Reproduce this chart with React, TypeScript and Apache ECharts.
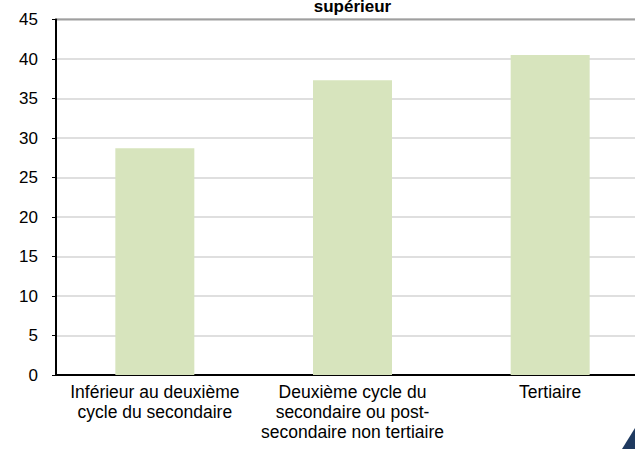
import React, { useEffect, useRef } from "react";
import * as echarts from "echarts";

const categories = [
  "Inférieur au deuxième\ncycle du secondaire",
  "Deuxième cycle du\nsecondaire ou post-\nsecondaire non tertiaire",
  "Tertiaire",
];
const values = [28.7, 37.3, 40.5];
const titleText = "supérieur";
const FONT = "'Liberation Sans', Arial, sans-serif";

export default function App() {
  const ref = useRef<HTMLDivElement>(null);
  useEffect(() => {
    document.body.style.margin = "0";
    const chart = echarts.init(ref.current!, null, { renderer: "svg" });
    chart.setOption({
      animation: false,
      backgroundColor: "#ffffff",
      textStyle: { fontFamily: FONT },
      grid: {
        left: 56,
        top: 19.5,
        right: 3,
        bottom: 74,
        show: true,
        borderColor: "#000000",
        borderWidth: 1.5,
        containLabel: false,
      },
      graphic: [
        {
          type: "text",
          style: {
            x: 352.5,
            y: 6,
            text: titleText,
            align: "center",
            verticalAlign: "middle",
            font: `bold 17px ${FONT}`,
            fill: "#000000",
          },
        },
        {
          type: "polygon",
          shape: { points: [[622, 449], [635, 428], [635, 449]] },
          style: { fill: "#1f3a60" },
        },
      ],
      xAxis: {
        type: "category",
        data: categories,
        axisLine: { lineStyle: { color: "#000000", width: 2 } },
        axisTick: { inside: true, length: 5, lineStyle: { color: "#000000", width: 1.5 } },
        axisLabel: {
          color: "#000000",
          fontSize: 17.5,
          lineHeight: 20,
          margin: 7,
          interval: 0,
          fontFamily: FONT,
        },
        splitLine: { show: false },
      },
      yAxis: {
        type: "value",
        min: 0,
        max: 45,
        interval: 5,
        axisLine: { show: true, lineStyle: { color: "#000000", width: 2 } },
        axisTick: { show: true, inside: false, length: 4, lineStyle: { color: "#000000", width: 1 } },
        axisLabel: { color: "#000000", fontSize: 17, margin: 18, fontFamily: FONT },
        splitLine: { show: true, lineStyle: { color: "#d4d4d4", width: 1.5 } },
      },
      series: [
        {
          type: "bar",
          data: values,
          barWidth: 79,
          itemStyle: { color: "#d7e4bd" },
        },
      ],
    });
    return () => chart.dispose();
  }, []);
  return (
    <div style={{ width: 635, height: 449, overflow: "hidden", position: "relative" }}>
      <div ref={ref} style={{ width: 652, height: 449 }} />
    </div>
  );
}
